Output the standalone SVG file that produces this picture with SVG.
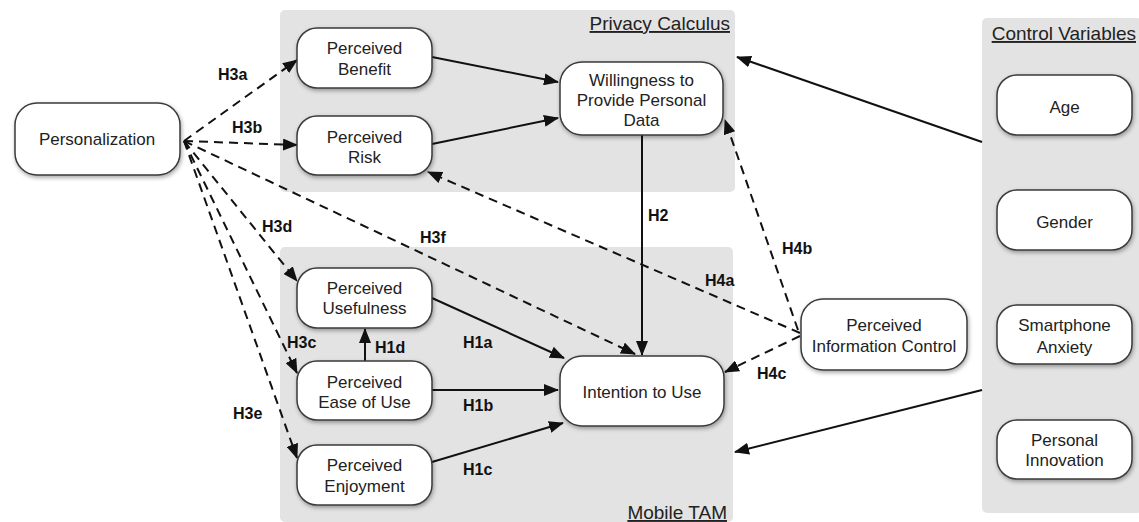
<svg xmlns="http://www.w3.org/2000/svg" width="1139" height="522" viewBox="0 0 1139 522">
<style>
.panel{fill:#e3e3e3;stroke:none}
.node rect{fill:#fff;stroke:#3a3a3a;stroke-width:1.5;filter:url(#sh)}
.node text{font-family:"Liberation Sans",Arial,sans-serif;font-size:17px;fill:#222;text-anchor:middle}
.title{font-family:"Liberation Sans",Arial,sans-serif;font-size:19px;fill:#222;text-decoration:underline}
.lbl{font-family:"Liberation Sans",Arial,sans-serif;font-size:16px;font-weight:bold;fill:#111}
.solid{stroke:#111;stroke-width:2;fill:none;marker-end:url(#ah)}
.dash{stroke:#111;stroke-width:2;fill:none;stroke-dasharray:9 6;marker-end:url(#ah)}
</style>
<defs>
<filter id="sh" x="-20%" y="-20%" width="140%" height="150%">
<feDropShadow dx="1" dy="2" stdDeviation="2" flood-color="#000" flood-opacity="0.35"/>
</filter>
<marker id="ah" markerUnits="userSpaceOnUse" markerWidth="15" markerHeight="12" viewBox="0 0 15 12" refX="14" refY="6" orient="auto">
<path d="M0,0 L15,6 L0,12 Z" fill="#111"/>
</marker>
</defs>
<rect width="1139" height="522" fill="#fff"/>
<g id="panels">
<rect class="panel" x="280" y="10" width="455" height="182" rx="5"/>
<rect class="panel" x="280" y="247" width="453" height="275" rx="5"/>
<rect class="panel" x="982" y="18" width="160" height="495" rx="5"/>
<text class="title" x="730" y="30" text-anchor="end">Privacy Calculus</text>
<text class="title" x="727" y="519" text-anchor="end">Mobile TAM</text>
<text class="title" x="1136" y="40" text-anchor="end">Control Variables</text>
</g>
<g id="connectors">
<line class="solid" x1="432" y1="57" x2="558" y2="82"/>
<line class="solid" x1="432" y1="144" x2="558" y2="118"/>
<line class="solid" x1="642" y1="135" x2="642" y2="355"/>
<line class="solid" x1="432" y1="298" x2="564" y2="358"/>
<line class="solid" x1="432" y1="390" x2="558" y2="390"/>
<line class="solid" x1="432" y1="462" x2="563" y2="423"/>
<line class="solid" x1="365" y1="361" x2="365" y2="329"/>
<line class="solid" x1="982" y1="142" x2="737" y2="57"/>
<line class="solid" x1="982" y1="390" x2="735" y2="452"/>
<line class="dash" x1="184" y1="141" x2="297" y2="60"/>
<line class="dash" x1="184" y1="141" x2="297" y2="145"/>
<line class="dash" x1="184" y1="141" x2="297" y2="281"/>
<line class="dash" x1="184" y1="141" x2="297" y2="373"/>
<line class="dash" x1="184" y1="141" x2="297" y2="458"/>
<line class="dash" x1="184" y1="141" x2="635" y2="354"/>
<line class="dash" x1="800" y1="333" x2="428" y2="172"/>
<line class="dash" x1="798" y1="330" x2="725" y2="120"/>
<line class="dash" x1="800" y1="336" x2="725" y2="372"/>
<text class="lbl" x="218" y="80">H3a</text>
<text class="lbl" x="232" y="133">H3b</text>
<text class="lbl" x="262" y="232">H3d</text>
<text class="lbl" x="420" y="243">H3f</text>
<text class="lbl" x="648" y="221">H2</text>
<text class="lbl" x="782" y="254">H4b</text>
<text class="lbl" x="705" y="286">H4a</text>
<text class="lbl" x="757" y="379">H4c</text>
<text class="lbl" x="287" y="348">H3c</text>
<text class="lbl" x="375" y="353">H1d</text>
<text class="lbl" x="233" y="419">H3e</text>
<text class="lbl" x="463" y="348">H1a</text>
<text class="lbl" x="463" y="411">H1b</text>
<text class="lbl" x="463" y="475">H1c</text>
</g>
<g id="personalization" class="node"><rect x="15" y="103" width="165" height="72" rx="22"/><text x="97" y="145">Personalization</text></g>
<g id="benefit" class="node"><rect x="297" y="28" width="135" height="60" rx="20"/><text x="364.5" y="54">Perceived</text><text x="364.5" y="75">Benefit</text></g>
<g id="risk" class="node"><rect x="297" y="116" width="135" height="59" rx="20"/><text x="364.5" y="143">Perceived</text><text x="364.5" y="163">Risk</text></g>
<g id="willingness" class="node"><rect x="560" y="62" width="163" height="73" rx="22"/><text x="641.5" y="86">Willingness to</text><text x="641.5" y="106">Provide Personal</text><text x="641.5" y="126">Data</text></g>
<g id="usefulness" class="node"><rect x="297" y="268" width="135" height="60" rx="20"/><text x="364.5" y="294">Perceived</text><text x="364.5" y="314">Usefulness</text></g>
<g id="ease" class="node"><rect x="297" y="361" width="135" height="59" rx="20"/><text x="364.5" y="388">Perceived</text><text x="364.5" y="408">Ease of Use</text></g>
<g id="enjoyment" class="node"><rect x="297" y="445" width="135" height="60" rx="20"/><text x="364.5" y="471">Perceived</text><text x="364.5" y="492">Enjoyment</text></g>
<g id="intention" class="node"><rect x="560" y="356" width="164" height="70" rx="22"/><text x="642" y="398">Intention to Use</text></g>
<g id="pic" class="node"><rect x="801" y="299" width="166" height="71" rx="22"/><text x="884" y="331">Perceived</text><text x="884" y="352">Information Control</text></g>
<g id="age" class="node"><rect x="997" y="75" width="135" height="60" rx="20"/><text x="1064.5" y="113">Age</text></g>
<g id="gender" class="node"><rect x="997" y="190" width="135" height="60" rx="20"/><text x="1064.5" y="228">Gender</text></g>
<g id="anxiety" class="node"><rect x="997" y="305" width="135" height="59" rx="20"/><text x="1064.5" y="331">Smartphone</text><text x="1064.5" y="353">Anxiety</text></g>
<g id="innovation" class="node"><rect x="997" y="420" width="135" height="59" rx="20"/><text x="1064.5" y="446">Personal</text><text x="1064.5" y="466">Innovation</text></g>
</svg>
